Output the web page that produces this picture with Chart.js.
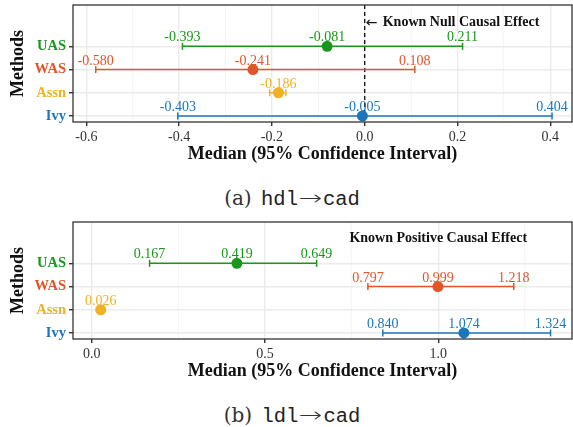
<!DOCTYPE html>
<html lang="en">
<head>
    <meta charset="UTF-8">
    <title>Median (95% Confidence Interval)</title>
    <script src="https://cdn.jsdelivr.net/npm/chart.js"></script>
    <style>
        body { margin: 0; background: #fff; width: 573px; height: 427px; position: relative; overflow: hidden; }
        canvas { position: absolute; left: 0; }
        .caption {
            position: absolute; left: 0; width: 584px; text-align: center;
            font-family: 'DejaVu Serif', serif; font-size: 20px; color: #333; line-height: 24px;
        }
        .caption .tt { font-family: 'Liberation Mono', monospace; font-size: 20.5px; color: #222; }
        .caption .arr {
            display: inline-block; width: 25px; text-align: center;
            font-family: 'DejaVu Sans', sans-serif; font-size: 20px; font-weight: 200;
            transform: scaleX(1.4);
        }
    </style>
</head>
<body>
    <canvas id="hdlChart" width="573" height="175" style="top:0"></canvas>
    <div class="caption" style="top:186px">(a) <span class="tt" style="margin-left:3px">hdl</span><span class="arr">→</span><span class="tt">cad</span></div>
    <canvas id="ldlChart" width="573" height="175" style="top:217px"></canvas>
    <div class="caption" style="top:403px">(b) <span class="tt" style="margin-left:3px">ldl</span><span class="arr">→</span><span class="tt">cad</span></div>

    <script>
        // methods, top to bottom
        const methods = ['UAS', 'WAS', 'Assn', 'Ivy'];
        const methodColors = ['#1a961a', '#e0552a', '#f0b124', '#1c76be'];
        const showBounds = [true, true, false, true];

        // (a) hdl -> cad
        const hdlLower  = [-0.393, -0.580, -0.205, -0.403];
        const hdlMedian = [-0.081, -0.241, -0.186, -0.005];
        const hdlUpper  = [0.211, 0.108, -0.170, 0.404];
        const hdlTicks  = [-0.6, -0.4, -0.2, 0.0, 0.2, 0.4];
        const hdlMinor  = [-0.5, -0.3, -0.1, 0.1, 0.3];

        // (b) ldl -> cad
        const ldlLower  = [0.167, 0.797, 0.018, 0.840];
        const ldlMedian = [0.419, 0.999, 0.026, 1.074];
        const ldlUpper  = [0.649, 1.218, 0.034, 1.324];
        const ldlTicks  = [0.0, 0.5, 1.0];
        const ldlMinor  = [0.25, 0.75, 1.25];

        Chart.defaults.font.family = "'Liberation Serif', serif";
        Chart.defaults.color = '#333';

        // y position of each method (UAS on top)
        const rowOf = i => methods.length - i;

        const frame = {
            id: 'frame',
            afterDraw(chart) {
                const { ctx, chartArea: a } = chart;
                ctx.save();
                ctx.strokeStyle = '#333';
                ctx.lineWidth = 1.3;
                ctx.strokeRect(a.left, a.top, a.right - a.left, a.bottom - a.top);
                ctx.restore();
            }
        };

        function makeChart(id, lower, median, upper, xMin, xMax, major, minor, note) {
            const datasets = [];
            methods.forEach((m, i) => {
                datasets.push({
                    label: m + ' CI',
                    data: [{ x: lower[i], y: rowOf(i) }, { x: upper[i], y: rowOf(i) }],
                    showLine: true,
                    borderColor: methodColors[i],
                    borderWidth: 1.5,
                    pointStyle: 'line',
                    rotation: 90,
                    pointRadius: 3.5,
                    pointBorderWidth: 1.5,
                    pointBorderColor: methodColors[i]
                });
            });
            datasets.push({
                label: 'Median',
                data: methods.map((m, i) => ({ x: median[i], y: rowOf(i) })),
                pointRadius: 5.5,
                pointBackgroundColor: methodColors,
                pointBorderColor: methodColors,
                pointBorderWidth: 0
            });

            const labels = {
                id: 'valueLabels',
                beforeDatasetsDraw(chart) {
                    const { ctx, scales: { x }, chartArea: a } = chart;
                    if (note.dashed) {
                        ctx.save();
                        ctx.strokeStyle = '#111';
                        ctx.lineWidth = 1.3;
                        ctx.setLineDash([4, 3]);
                        ctx.beginPath();
                        ctx.moveTo(x.getPixelForValue(0), a.top);
                        ctx.lineTo(x.getPixelForValue(0), a.bottom);
                        ctx.stroke();
                        ctx.restore();
                    }
                },
                afterDatasetsDraw(chart) {
                    const { ctx, scales: { x, y } } = chart;
                    ctx.save();
                    ctx.font = "14px 'Liberation Serif'";
                    ctx.textAlign = 'center';
                    ctx.textBaseline = 'alphabetic';
                    methods.forEach((m, i) => {
                        ctx.fillStyle = methodColors[i];
                        const py = y.getPixelForValue(rowOf(i)) - 5;
                        const vals = showBounds[i] ? [lower[i], median[i], upper[i]] : [median[i]];
                        vals.forEach(v => ctx.fillText(v.toFixed(3), x.getPixelForValue(v), py));
                    });
                    // annotation
                    const nx = x.getPixelForValue(note.x);
                    const ny = y.getPixelForValue(note.y);
                    ctx.fillStyle = '#111';
                    ctx.textBaseline = 'middle';
                    if (note.arrow) {
                        ctx.font = "14px 'DejaVu Sans'";
                        ctx.textAlign = 'left';
                        ctx.fillText('←', nx + 1, ny + 1);
                    }
                    ctx.font = "bold 14px 'Liberation Serif'";
                    ctx.textAlign = note.align;
                    ctx.fillText(note.text, nx + note.dx, ny);
                    ctx.restore();
                }
            };

            const isMajor = v => major.some(t => Math.abs(t - v) < 1e-9);

            return new Chart(document.getElementById(id), {
                type: 'scatter',
                data: { datasets },
                options: {
                    responsive: false,
                    animation: false,
                    layout: { autoPadding: false, padding: { top: 5, right: 1, left: 0, bottom: 0 } },
                    plugins: { legend: { display: false }, tooltip: { enabled: false } },
                    scales: {
                        x: {
                            type: 'linear',
                            min: xMin,
                            max: xMax,
                            afterBuildTicks: s => {
                                s.ticks = major.concat(minor).sort((a, b) => a - b).map(v => ({ value: v }));
                            },
                            afterFit: s => { s.height = 53; s.paddingLeft = 0; s.paddingRight = 0; },
                            border: { display: false },
                            grid: {
                                color: c => isMajor(c.tick.value) ? '#ebebeb' : '#f3f3f3',
                                lineWidth: c => isMajor(c.tick.value) ? 1.4 : 0.8,
                                tickColor: c => isMajor(c.tick.value) ? '#333' : 'rgba(0,0,0,0)',
                                tickLength: 4
                            },
                            ticks: {
                                autoSkip: false,
                                maxRotation: 0,
                                padding: 3,
                                color: '#333',
                                font: { size: 14 },
                                callback: v => isMajor(v) ? v.toFixed(1) : ''
                            },
                            title: {
                                display: true,
                                text: 'Median (95% Confidence Interval)',
                                color: '#111',
                                font: { size: 18, weight: 'bold' },
                                padding: { top: 0, bottom: 10 }
                            }
                        },
                        y: {
                            type: 'linear',
                            min: 0.74,
                            max: 5.78,
                            afterBuildTicks: s => {
                                s.ticks = [1, 2, 3, 4].map(v => ({ value: v }));
                            },
                            afterFit: s => { s.width = 73; s.paddingTop = 0; s.paddingBottom = 0; },
                            border: { display: false },
                            grid: { color: '#ebebeb', lineWidth: 1.4, tickColor: '#333', tickLength: 4 },
                            ticks: {
                                autoSkip: false,
                                padding: 3,
                                font: { size: 14.5, weight: 'bold' },
                                color: c => methodColors[methods.length - c.tick.value],
                                callback: v => methods[methods.length - v]
                            },
                            title: {
                                display: true,
                                text: 'Methods',
                                color: '#111',
                                font: { size: 18, weight: 'bold' },
                                padding: { top: 8, bottom: 0 }
                            }
                        }
                    }
                },
                plugins: [labels, frame]
            });
        }

        makeChart('hdlChart', hdlLower, hdlMedian, hdlUpper, -0.629, 0.447, hdlTicks, hdlMinor,
            { text: 'Known Null Causal Effect', x: 0, y: 5.05, dx: 18, align: 'left', dashed: true, arrow: true });
        makeChart('ldlChart', ldlLower, ldlMedian, ldlUpper, -0.054, 1.386, ldlTicks, ldlMinor,
            { text: 'Known Positive Causal Effect', x: 1.0, y: 5.07, dx: 0, align: 'center', dashed: false, arrow: false });
    </script>
</body>
</html>
